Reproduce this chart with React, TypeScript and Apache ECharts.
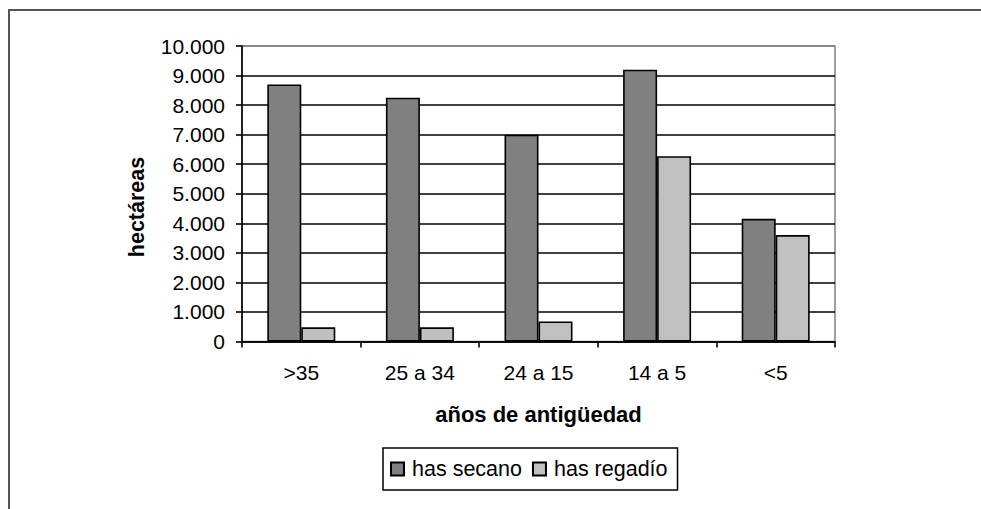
import React, { useEffect, useRef } from "react";
import * as echarts from "echarts";

const categories = [">35", "25 a 34", "24 a 15", "14 a 5", "<5"];
const secano = [8700, 8250, 7000, 9200, 4150];
const regadio = [480, 480, 680, 6270, 3600];
const seriesNames = ["has secano", "has regadío"];
const yTitle = "hectáreas";
const xTitle = "años de antigüedad";

const fmt = (v: number) => String(v).replace(/\B(?=(\d{3})+(?!\d))/g, ".");

export default function App() {
  const ref = useRef<HTMLDivElement>(null);
  useEffect(() => {
    if (!ref.current) return;
    const chart = echarts.init(ref.current, null, { renderer: "svg" });
    const font = "'Liberation Sans', Arial, sans-serif";
    const gridColors = [
      "#000", "#000", "#000", "#000", "#000", "#000", "#000", "#000", "#000", "#000", "#808080",
    ];
    chart.setOption({
      animation: false,
      backgroundColor: "#fff",
      textStyle: { fontFamily: font },
      grid: {
        left: 242,
        top: 46,
        right: 146,
        bottom: 167.5,
        show: true,
        borderColor: "#808080",
        borderWidth: 1.5,
        backgroundColor: "transparent",
      },
      graphic: [
        {
          type: "rect",
          shape: { x: 9, y: 10, width: 1000, height: 600 },
          style: { fill: "none", stroke: "#555", lineWidth: 2 },
          silent: true,
        },
        {
          type: "text",
          x: 137,
          y: 207,
          rotation: Math.PI / 2,
          style: {
            text: yTitle,
            fontFamily: font,
            fontSize: 21.5,
            fontWeight: "bold",
            fill: "#000",
            align: "center",
            verticalAlign: "middle",
          },
        },
      ],
      legend: {
        left: 383,
        top: 448,
        orient: "horizontal",
        padding: [10, 10, 10, 7],
        itemGap: 10,
        itemWidth: 13,
        itemHeight: 13,
        borderColor: "#000",
        borderWidth: 1.5,
        icon: "rect",
        textStyle: { fontFamily: font, fontSize: 21.5, color: "#000", padding: [0, 0, 0, 3] },
        data: seriesNames,
      },
      xAxis: {
        type: "category",
        data: categories,
        name: xTitle,
        nameLocation: "middle",
        nameGap: 62,
        nameTextStyle: { fontFamily: font, fontSize: 22, fontWeight: "bold", color: "#000" },
        axisLine: { show: true, lineStyle: { color: "#000", width: 1.6 } },
        axisTick: { show: true, length: 6, alignWithLabel: false, lineStyle: { color: "#000", width: 1.6 } },
        axisLabel: { fontFamily: font, fontSize: 21, color: "#000", margin: 20 },
      },
      yAxis: {
        type: "value",
        min: 0,
        max: 10000,
        interval: 1000,
        axisLine: { show: true, lineStyle: { color: "#000", width: 1.6 } },
        axisTick: { show: true, length: 6, lineStyle: { color: "#000", width: 1.6 } },
        axisLabel: { fontFamily: font, fontSize: 21, color: "#000", margin: 17, formatter: fmt },
        splitLine: { show: true, lineStyle: { color: gridColors, width: 1.6 } },
      },
      series: [
        {
          name: seriesNames[0],
          type: "bar",
          data: secano,
          barWidth: 34,
          barGap: "0%",
          itemStyle: { color: "#808080", borderColor: "#000", borderWidth: 1.6 },
        },
        {
          name: seriesNames[1],
          type: "bar",
          data: regadio,
          barWidth: 34,
          barGap: "0%",
          itemStyle: { color: "#c0c0c0", borderColor: "#000", borderWidth: 1.6 },
        },
      ],
    });
    return () => chart.dispose();
  }, []);
  return (
    <div
      ref={ref}
      style={{ position: "fixed", left: 0, top: 0, width: 981, height: 509 }}
    />
  );
}
